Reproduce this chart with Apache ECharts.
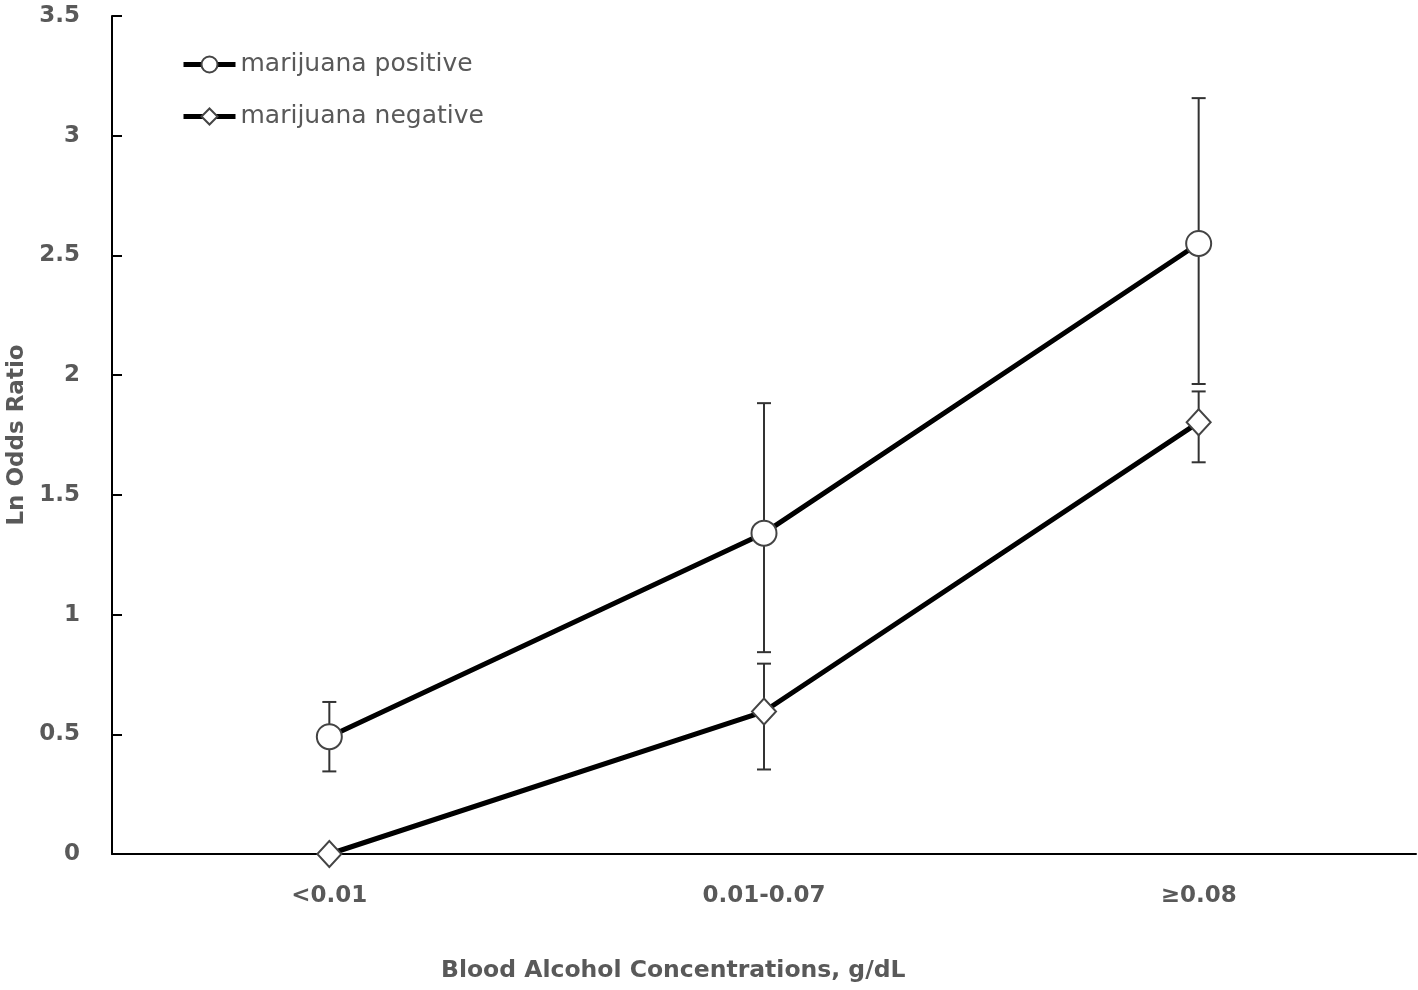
<!DOCTYPE html>
<html>
<head>
<meta charset="utf-8">
<script src="https://cdn.jsdelivr.net/npm/echarts@6/dist/echarts.min.js"></script>
<style>html,body{margin:0;padding:0;background:#fff;}#chart{width:1418px;height:990px;}</style>
</head>
<body>
<div id="chart"></div>
<script>
const categories = ['<0.01', '0.01-0.07', '≥0.08'];
const yTicks = [0, 0.5, 1, 1.5, 2, 2.5, 3, 3.5];
const positiveValues = [0.49, 1.34, 2.55];
const positiveLow = [0.345, 0.843, 1.963];
const positiveHigh = [0.635, 1.883, 3.157];
const negativeValues = [0, 0.595, 1.803];
const negativeLow = [null, 0.353, 1.636];
const negativeHigh = [null, 0.795, 1.932];

const FONT = 'DejaVu Sans';
const GRAY = '#595959';

function errData(low, high) {
  const out = [];
  for (let i = 0; i < categories.length; i++) {
    if (low[i] != null && high[i] != null) out.push([i, low[i], high[i]]);
  }
  return out;
}

function renderErr(params, api) {
  const x = api.value(0);
  const lo = api.coord([x, api.value(1)]);
  const hi = api.coord([x, api.value(2)]);
  const half = 7;
  const style = { stroke: '#333333', lineWidth: 2, fill: null };
  return {
    type: 'group',
    children: [
      { type: 'line', shape: { x1: hi[0], y1: hi[1], x2: lo[0], y2: lo[1] }, style },
      { type: 'line', shape: { x1: hi[0] - half, y1: hi[1], x2: hi[0] + half, y2: hi[1] }, style },
      { type: 'line', shape: { x1: lo[0] - half, y1: lo[1], x2: lo[0] + half, y2: lo[1] }, style }
    ]
  };
}

const chart = echarts.init(document.getElementById('chart'));
chart.setOption({
  animation: false,
  backgroundColor: '#ffffff',
  title: {
    text: 'Blood Alcohol Concentrations, g/dL',
    left: 436, top: 954,
    textStyle: { fontFamily: FONT, fontWeight: 'bold', fontSize: 23.5, color: GRAY }
  },
  legend: {
    orient: 'vertical',
    left: 181, top: 52,
    padding: 0,
    itemWidth: 52, itemHeight: 20,
    itemGap: 27,
    lineStyle: { width: 5 },
    textStyle: { fontFamily: FONT, fontSize: 25, color: GRAY },
    data: ['marijuana positive', 'marijuana negative']
  },
  grid: { left: 112, right: 2, top: 16, bottom: 136, containLabel: false, outerBoundsMode: 'none' },
  xAxis: {
    type: 'category',
    data: categories,
    boundaryGap: true,
    axisLine: { lineStyle: { color: '#000', width: 2 } },
    axisTick: { show: false },
    axisLabel: { fontFamily: FONT, fontWeight: 'bold', fontSize: 23, color: GRAY, margin: 31 }
  },
  yAxis: {
    type: 'value',
    min: 0, max: 3.5, interval: 0.5,
    name: 'Ln Odds Ratio',
    nameLocation: 'middle',
    nameGap: 80,
    nameTextStyle: { fontFamily: FONT, fontWeight: 'bold', fontSize: 23, color: GRAY },
    axisLine: { show: true, lineStyle: { color: '#000', width: 2 } },
    axisTick: { show: true, inside: true, length: 10, lineStyle: { color: '#000', width: 2 } },
    splitLine: { show: false },
    axisLabel: {
      fontFamily: FONT, fontWeight: 'bold', fontSize: 23, color: GRAY, margin: 32,
      formatter: v => (yTicks.indexOf(v) >= 0 ? String(v) : '')
    }
  },
  series: [
    {
      name: 'err-pos', type: 'custom', renderItem: renderErr, z: 1,
      data: errData(positiveLow, positiveHigh), silent: true
    },
    {
      name: 'err-neg', type: 'custom', renderItem: renderErr, z: 1,
      data: errData(negativeLow, negativeHigh), silent: true
    },
    {
      name: 'marijuana positive', type: 'line', data: positiveValues, z: 3,
      symbol: 'circle', symbolSize: 25, showAllSymbol: true,
      lineStyle: { color: '#000', width: 5 },
      itemStyle: { color: '#ffffff', borderColor: '#444444', borderWidth: 2 }
    },
    {
      name: 'marijuana negative', type: 'line', data: negativeValues, z: 3,
      symbol: 'diamond', symbolSize: [24, 26], showAllSymbol: true,
      lineStyle: { color: '#000', width: 5 },
      itemStyle: { color: '#ffffff', borderColor: '#444444', borderWidth: 2 }
    }
  ]
});
</script>
</body>
</html>
